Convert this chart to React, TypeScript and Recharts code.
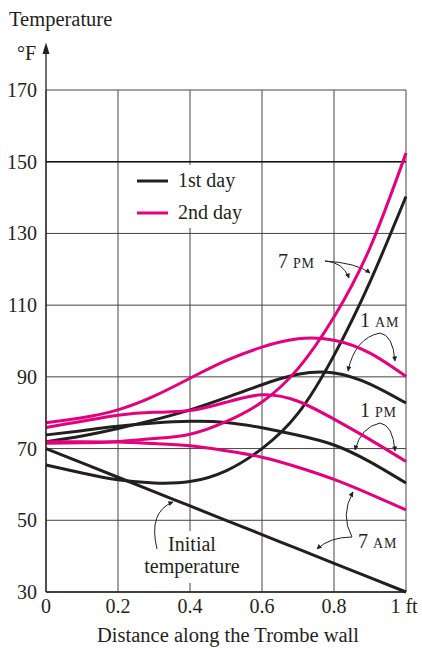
import React from "react";
import { LineChart, Line, XAxis, YAxis, CartesianGrid, ReferenceLine, Customized } from "recharts";

const xPositions = [0, 0.1, 0.2, 0.3, 0.4, 0.5, 0.6, 0.7, 0.8, 0.9, 1];
const xTicks = [0, 0.2, 0.4, 0.6, 0.8, 1];
const yTicks = [30, 50, 70, 90, 110, 130, 150, 170];

// 1st day (black)
const initialTemp = [70, 66, 62, 58, 54, 50, 46, 42, 38, 34, 30];
const day1_1AM = [71.9, 73.5, 75.6, 78, 80.8, 84.2, 87.8, 90.7, 91.1, 88, 82.7];
const day1_1PM = [73.8, 75, 76.2, 77.1, 77.6, 77.3, 75.8, 73.7, 71, 66.3, 60.4];
const day1_7PM = [65.4, 63.2, 61.3, 60.4, 60.8, 63.8, 70, 79.8, 96, 116.5, 140.3];

// 2nd day (magenta)
const day2_7AM = [71.9, 71.9, 71.8, 71.4, 70.8, 69.4, 67.6, 64.8, 61.4, 57.3, 52.9];
const day2_1PM = [75.9, 77.6, 79.3, 80.1, 80.6, 82.9, 85, 83.2, 78.2, 72.5, 66.4];
const day2_1AM = [77.2, 78.6, 80.8, 84.6, 89.6, 94.5, 98.3, 100.6, 100.2, 96.6, 90.1];
const day2_7PM = [71.5, 71.6, 72, 72.8, 74, 77.5, 83, 92.3, 106.7, 126, 152.4];

const BLACK = "#231f20";
const PINK = "#e5007d";
const FONT = "'Liberation Serif', 'Times New Roman', serif";

const seriesList = [
  { key: "initial", values: initialTemp, color: BLACK },
  { key: "d1_1PM", values: day1_1PM, color: BLACK },
  { key: "d1_1AM", values: day1_1AM, color: BLACK },
  { key: "d1_7PM", values: day1_7PM, color: BLACK },
  { key: "d2_7AM", values: day2_7AM, color: PINK },
  { key: "d2_1PM", values: day2_1PM, color: PINK },
  { key: "d2_1AM", values: day2_1AM, color: PINK },
  { key: "d2_7PM", values: day2_7PM, color: PINK },
];

const data = xPositions.map((x, i) => {
  const row: Record<string, number> = { x };
  seriesList.forEach((s) => {
    row[s.key] = s.values[i];
  });
  return row;
});

const YTick = (props: any) => {
  const { x, y, payload } = props;
  return (
    <text x={x} y={y + 7} textAnchor="end" fontFamily={FONT} fontSize={20} fill={BLACK}>
      {payload.value}
    </text>
  );
};

const XTick = (props: any) => {
  const { x, y, payload } = props;
  const label = payload.value === 1 ? "1 ft" : payload.value === 0 ? "0" : String(payload.value);
  return (
    <text x={payload.value === 1 ? x - 2 : x} y={y + 15} textAnchor="middle" fontFamily={FONT} fontSize={20} fill={BLACK}>
      {label}
    </text>
  );
};

const TimeLabel = ({ x, y, num, suffix }: { x: number; y: number; num: string; suffix: string }) => (
  <text x={x} y={y} fontFamily={FONT} fill={BLACK}>
    <tspan fontSize={20}>{num}</tspan>
    <tspan fontSize={14} dx={5} letterSpacing={0.8}>{suffix}</tspan>
  </text>
);

const Annotations = () => (
  <g>
    <defs>
      <marker id="ah" viewBox="0 0 10 10" refX="9" refY="5" markerWidth="8" markerHeight="5" markerUnits="userSpaceOnUse" orient="auto">
        <path d="M0,0 L10,5 L0,10 z" fill={BLACK} />
      </marker>
    </defs>
    {/* Y axis arrow */}
    <line x1={46} y1={90} x2={46} y2={52} stroke={BLACK} strokeWidth={1.3} />
    <path d="M46,42.5 L42.5,54 L49.5,54 z" fill={BLACK} />
    <text x={9} y={26} fontFamily={FONT} fontSize={20.5} fill={BLACK}>Temperature</text>
    <text x={17} y={60} fontFamily={FONT} fontSize={20} fill={BLACK}>°F</text>
    <text x={228} y={642} textAnchor="middle" fontFamily={FONT} fontSize={20.5} fill={BLACK}>Distance along the Trombe wall</text>

    {/* Legend */}
    <rect x={124} y={165} width={132} height={63} fill="#fff" />
    <line x1={137} y1={181} x2={168} y2={181} stroke={BLACK} strokeWidth={3} />
    <text x={178} y={187} fontFamily={FONT} fontSize={20} fill={BLACK}>1st day</text>
    <line x1={137} y1={213} x2={168} y2={213} stroke={PINK} strokeWidth={3} />
    <text x={178} y={219} fontFamily={FONT} fontSize={20} fill={BLACK}>2nd day</text>

    {/* 7 PM */}
    <TimeLabel x={278} y={268} num="7" suffix="PM" />
    <path d="M325,261 Q343,262 349,278" fill="none" stroke={BLACK} strokeWidth={1} markerEnd="url(#ah)" />
    <path d="M325,261 Q357,263 370,273" fill="none" stroke={BLACK} strokeWidth={1} markerEnd="url(#ah)" />

    {/* 1 AM */}
    <TimeLabel x={360} y={327} num="1" suffix="AM" />
    <path d="M380,333 Q393,335 395,361" fill="none" stroke={BLACK} strokeWidth={1} markerEnd="url(#ah)" />
    <path d="M380,333 Q355,338 348,371" fill="none" stroke={BLACK} strokeWidth={1} markerEnd="url(#ah)" />

    {/* 1 PM */}
    <TimeLabel x={360} y={417} num="1" suffix="PM" />
    <path d="M380,423 Q393,425 395,451" fill="none" stroke={BLACK} strokeWidth={1} markerEnd="url(#ah)" />
    <path d="M380,423 Q361,427 355,450" fill="none" stroke={BLACK} strokeWidth={1} markerEnd="url(#ah)" />

    {/* 7 AM */}
    <TimeLabel x={358} y={548} num="7" suffix="AM" />
    <path d="M352,537 Q340,515 353,492" fill="none" stroke={BLACK} strokeWidth={1} markerEnd="url(#ah)" />
    <path d="M352,537 Q330,537 317,549" fill="none" stroke={BLACK} strokeWidth={1} markerEnd="url(#ah)" />

    {/* Initial temperature */}
    <rect x={140} y={531} width={106} height={52} fill="#fff" />
    <text x={192} y={551} textAnchor="middle" fontFamily={FONT} fontSize={20} fill={BLACK}>Initial</text>
    <text x={192} y={573} textAnchor="middle" fontFamily={FONT} fontSize={20} fill={BLACK}>temperature</text>
    <path d="M157,549 Q148,512 173,502" fill="none" stroke={BLACK} strokeWidth={1} markerEnd="url(#ah)" />
  </g>
);

export default function App() {
  return (
    <div style={{ position: "absolute", left: 0, top: 0, width: 422, height: 648, background: "#fff" }}>
      <LineChart width={422} height={648} data={data} margin={{ top: 90, right: 16, bottom: 26, left: 6 }}>
        <CartesianGrid stroke="#444" strokeWidth={1} />
        <XAxis
          dataKey="x"
          type="number"
          domain={[0, 1]}
          ticks={xTicks}
          height={30}
          tickSize={0}
          tickMargin={6}
          tick={<XTick />}
          axisLine={{ stroke: BLACK, strokeWidth: 1.3 }}
          tickLine={false}
        />
        <YAxis
          type="number"
          domain={[30, 170]}
          ticks={yTicks}
          width={40}
          tickSize={0}
          tickMargin={9}
          tick={<YTick />}
          axisLine={{ stroke: BLACK, strokeWidth: 1.3 }}
          tickLine={false}
        />
        <ReferenceLine y={150} stroke="#111" strokeWidth={1.6} />
        <Customized component={Annotations} />
        {seriesList.map((s) => (
          <Line
            key={s.key}
            dataKey={s.key}
            type="natural"
            stroke={s.color}
            strokeWidth={3}
            dot={false}
            activeDot={false}
            isAnimationActive={false}
          />
        ))}
      </LineChart>
    </div>
  );
}
